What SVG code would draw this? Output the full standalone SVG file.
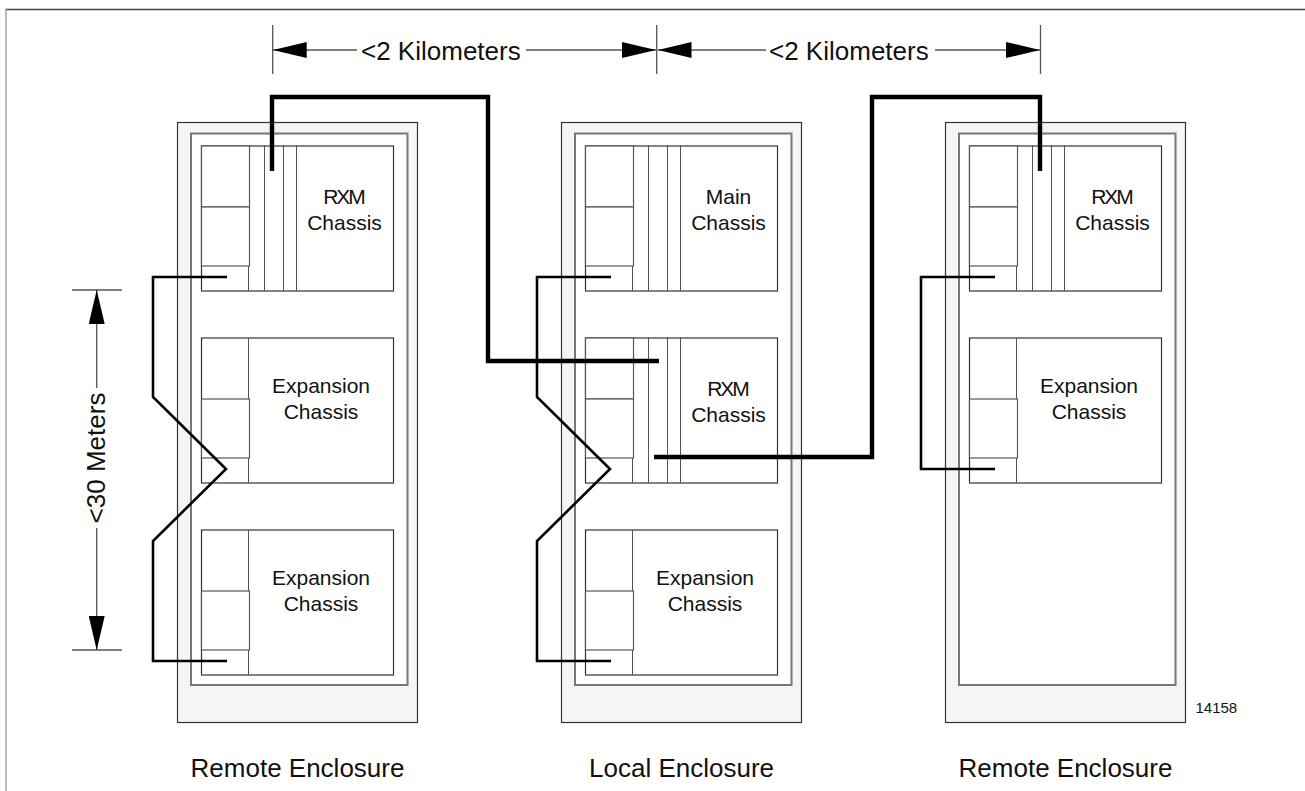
<svg xmlns="http://www.w3.org/2000/svg" width="1305" height="791" viewBox="0 0 1305 791">
<style>
text{font-family:"Liberation Sans",Arial,sans-serif;fill:#111}
.lbl{font-size:21px;text-anchor:middle}
.rxm{letter-spacing:-2px}
.big{font-size:26px}
.outer{fill:#f5f5f5;stroke:#333;stroke-width:1.2}
.inner{fill:#fff;stroke:#777;stroke-width:2}
.ch{fill:#fff;stroke:#333;stroke-width:1.2}
.sl{stroke:#555;stroke-width:1;fill:none}
.box{fill:#fff;stroke:#555;stroke-width:1.2}
.thin{fill:none;stroke:#000;stroke-width:2.6}
.thick{fill:none;stroke:#000;stroke-width:4.4}
.dim{stroke:#555;stroke-width:1.3;fill:none}
</style>
<defs>
<g id="rxm">
<rect class="ch" x="201.5" y="146" width="192" height="145"/>
<rect class="box" x="201.5" y="146" width="48" height="61"/>
<rect class="box" x="201.5" y="207" width="48" height="59"/>
<line class="sl" x1="248.5" y1="266" x2="248.5" y2="291"/>
<line class="sl" x1="264.5" y1="145" x2="264.5" y2="291"/>
<line class="sl" x1="283.5" y1="145" x2="283.5" y2="291"/>
<line class="sl" x1="296.5" y1="145" x2="296.5" y2="291"/>
</g>
<g id="exp">
<rect class="ch" x="201.5" y="146" width="192" height="145"/>
<line class="sl" x1="248.5" y1="146" x2="248.5" y2="291"/>
<rect class="box" x="201.5" y="207" width="48" height="59"/>
</g>
<marker id="ah" viewBox="0 0 34 16" refX="34" refY="8" markerWidth="34" markerHeight="16" markerUnits="userSpaceOnUse" orient="auto">
<path d="M0,0 L34,8 L0,16 Z" fill="#000"/>
</marker>
</defs>
<rect width="1305" height="791" fill="#fff"/>
<g id="frame">
<line x1="5" y1="9.5" x2="1305" y2="9.5" stroke="#444" stroke-width="1.3"/>
<line x1="6" y1="9" x2="6" y2="791" stroke="#aaa" stroke-width="1.6"/>
</g>

<g id="enc-left">
<rect class="outer" x="177.5" y="122.5" width="240" height="600"/>
<rect class="inner" x="191" y="133.5" width="216.5" height="551.5"/>
<use href="#rxm"/>
<text class="lbl rxm" x="343.5" y="204">RXM</text>
<text class="lbl" x="344.5" y="230">Chassis</text>
<use href="#exp" y="192"/>
<text class="lbl" x="321" y="393">Expansion</text>
<text class="lbl" x="321" y="419">Chassis</text>
<use href="#exp" y="384"/>
<text class="lbl" x="321" y="585">Expansion</text>
<text class="lbl" x="321" y="611">Chassis</text>
<text class="big" x="297.5" y="777" text-anchor="middle">Remote Enclosure</text>
</g>

<g id="enc-local">
<rect class="outer" x="561.5" y="122.5" width="240" height="600"/>
<rect class="inner" x="575" y="133.5" width="216.5" height="551.5"/>
<use href="#rxm" x="384"/>
<text class="lbl" x="728.5" y="204">Main</text>
<text class="lbl" x="728.5" y="230">Chassis</text>
<use href="#rxm" x="384" y="192"/>
<text class="lbl rxm" x="727.5" y="396">RXM</text>
<text class="lbl" x="728.5" y="422">Chassis</text>
<use href="#exp" x="384" y="384"/>
<text class="lbl" x="705" y="585">Expansion</text>
<text class="lbl" x="705" y="611">Chassis</text>
<text class="big" x="681.5" y="777" text-anchor="middle">Local Enclosure</text>
</g>

<g id="enc-right">
<rect class="outer" x="945.5" y="122.5" width="240" height="600"/>
<rect class="inner" x="959" y="133.5" width="216.5" height="551.5"/>
<use href="#rxm" x="768"/>
<text class="lbl rxm" x="1111.5" y="204">RXM</text>
<text class="lbl" x="1112.5" y="230">Chassis</text>
<use href="#exp" x="768" y="192"/>
<text class="lbl" x="1089" y="393">Expansion</text>
<text class="lbl" x="1089" y="419">Chassis</text>
<text class="big" x="1065.5" y="777" text-anchor="middle">Remote Enclosure</text>
</g>

<g id="connectors">
<polyline class="thin" points="227,277 153,277 153,397 226,469 153,541 153,661 227,661"/>
<polyline class="thin" points="611,277 537,277 537,397 610,469 537,541 537,661 611,661"/>
<polyline class="thin" points="995,277 921,277 921,469 995,469"/>
<polyline class="thick" points="272,171 272,97 488,97 488,361 659,361"/>
<polyline class="thick" points="654,457 872,457 872,97 1040,97 1040,171"/>
</g>

<g id="dimensions">
<line class="dim" x1="272.7" y1="25" x2="272.7" y2="74"/>
<line class="dim" x1="656.7" y1="25" x2="656.7" y2="74"/>
<line class="dim" x1="1040.5" y1="25" x2="1040.5" y2="74"/>
<line class="dim" x1="357" y1="50" x2="272.7" y2="50" marker-end="url(#ah)"/>
<line class="dim" x1="526" y1="50" x2="656" y2="50" marker-end="url(#ah)"/>
<line class="dim" x1="766" y1="50" x2="657.5" y2="50" marker-end="url(#ah)"/>
<line class="dim" x1="935" y1="50" x2="1040" y2="50" marker-end="url(#ah)"/>
<text class="big" x="361" y="60">&lt;2 Kilometers</text>
<text class="big" x="769" y="60">&lt;2 Kilometers</text>
<line class="dim" x1="72" y1="290" x2="122" y2="290"/>
<line class="dim" x1="72" y1="650" x2="122" y2="650"/>
<line class="dim" x1="96.7" y1="388" x2="96.7" y2="290" marker-end="url(#ah)"/>
<line class="dim" x1="96.7" y1="528" x2="96.7" y2="650" marker-end="url(#ah)"/>
<text class="big" x="105" y="458" text-anchor="middle" transform="rotate(-90 105 458)">&lt;30 Meters</text>
<text x="1195.5" y="713" font-size="15">14158</text>
</g>
</svg>
